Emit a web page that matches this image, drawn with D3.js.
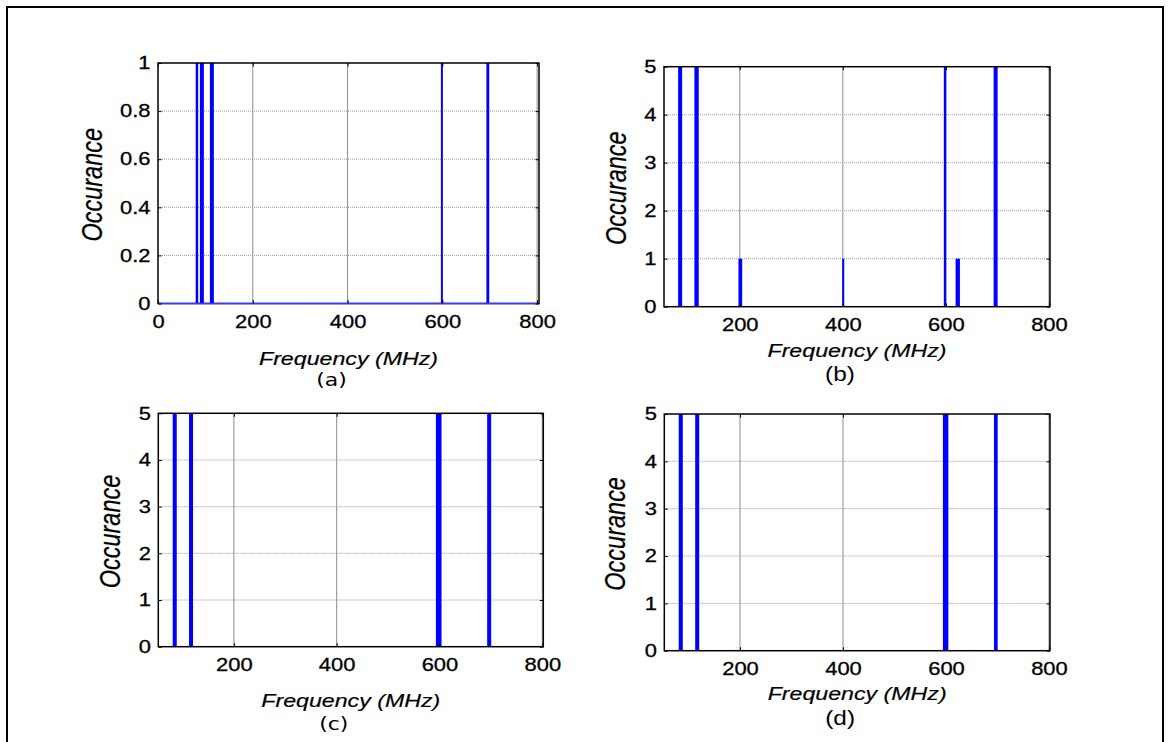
<!DOCTYPE html>
<html><head><meta charset="utf-8">
<script src="https://cdn.jsdelivr.net/npm/d3@7"></script>
<style>body{margin:0;background:#fff} svg{display:block}</style>
</head><body>
<svg id="chart" width="1168" height="742"></svg>
<script>
// ---------------- data ----------------
const panelNames = ["(a)", "(b)", "(c)", "(d)"];
const xLabel = "Frequency (MHz)";
const yLabel = "Occurance";
const xTicksA = [0, 200, 400, 600, 800];
const xTicksBCD = [200, 400, 600, 800];
const yTicksA = [0, 0.2, 0.4, 0.6, 0.8, 1];
const yTicksBCD = [0, 1, 2, 3, 4, 5];
const xDomainA = [0, 804];
const xDomainBCD = [53, 802];
const yDomainA = [0, 1];
const yDomainBCD = [0, 5];
// histogram bins: [start MHz, end MHz, occurrence]
const barsA = [[79.5, 84.8, 1], [88.4, 96.8, 1], [109.5, 117.9, 1], [597, 601, 1], [693, 699, 1]];
const barsB = [[80.4, 88.2, 5], [112, 120.4, 5], [197.5, 204.7, 1], [398.8, 402.7, 1], [596, 600.6, 5], [618.8, 627.2, 1], [692.6, 700.4, 5]];
const barsC = [[81, 88.9, 5], [112.8, 120.6, 5], [593, 604, 5], [692.8, 700.6, 5]];
const barsD = [[81, 88.9, 5], [113, 120.8, 5], [594, 604.6, 5], [693.2, 700.4, 5]];

// ---------------- layout ----------------
const SX = 1.22; // horizontal text stretch of the original figure
const svg = d3.select("#chart");

svg.append("rect").attr("x", 7).attr("y", 7).attr("width", 1156).attr("height", 760)
  .attr("fill", "none").attr("stroke", "#000").attr("stroke-width", 2);

const panels = [
  {name: panelNames[0], bars: barsA, xd: xDomainA, yd: yDomainA, xt: xTicksA, yt: yTicksA,
   L: 158, R: 539, T: 63, B: 303.5, ylabOff: -56.3, xlabOff: 61.5, nameOff: 82.5, nameFont: "DejaVu Sans", nameSize: 18, baseline: true},
  {name: panelNames[1], bars: barsB, xd: xDomainBCD, yd: yDomainBCD, xt: xTicksBCD, yt: yTicksBCD,
   L: 664, R: 1050, T: 66.7, B: 306.7, ylabOff: -38.3, xlabOff: 50.5, nameOff: 74.3, nameFont: "Liberation Sans", nameSize: 20, baseline: false},
  {name: panelNames[2], bars: barsC, xd: xDomainBCD, yd: yDomainBCD, xt: xTicksBCD, yt: yTicksBCD,
   L: 158.3, R: 543.3, T: 413.3, B: 646.7, ylabOff: -38.3, xlabOff: 60.5, nameOff: 83.3, nameFont: "DejaVu Sans", nameSize: 18, baseline: false},
  {name: panelNames[3], bars: barsD, xd: xDomainBCD, yd: yDomainBCD, xt: xTicksBCD, yt: yTicksBCD,
   L: 664.3, R: 1050, T: 414, B: 650.7, ylabOff: -39, xlabOff: 49.5, nameOff: 74.3, nameFont: "Liberation Sans", nameSize: 20, baseline: false}
];

const fmt = v => String(+v.toFixed(2));

panels.forEach(p => {
  const x = d3.scaleLinear().domain(p.xd).range([p.L, p.R]);
  const y = d3.scaleLinear().domain(p.yd).range([p.B, p.T]);
  const g = svg.append("g");

  // grid
  g.append("g").selectAll("line").data(p.xt.filter(v => x(v) > p.L + 1 && x(v) < p.R - 1)).join("line")
    .attr("x1", d => x(d)).attr("x2", d => x(d)).attr("y1", p.T).attr("y2", p.B)
    .attr("stroke", "#8c8c8c").attr("stroke-width", 1);
  g.append("g").selectAll("line").data(p.yt.filter(v => y(v) > p.T + 1 && y(v) < p.B - 1)).join("line")
    .attr("x1", p.L).attr("x2", p.R).attr("y1", d => y(d)).attr("y2", d => y(d))
    .attr("stroke", "#9a9a9a").attr("stroke-width", 1).attr("stroke-dasharray", "1,1");

  // bars
  g.append("g").selectAll("rect").data(p.bars).join("rect")
    .attr("x", d => x(d[0])).attr("width", d => Math.max(1, x(d[1]) - x(d[0])))
    .attr("y", d => y(d[2])).attr("height", d => y(0) - y(d[2]))
    .attr("fill", "#0000ff");

  // box
  g.append("rect").attr("x", p.L).attr("y", p.T).attr("width", p.R - p.L).attr("height", p.B - p.T)
    .attr("fill", "none").attr("stroke", "#000").attr("stroke-width", 1.5);

  if (p.baseline) {
    g.append("line").attr("x1", p.L + 1).attr("x2", p.R - 1).attr("y1", y(0)).attr("y2", y(0))
      .attr("stroke", "#3a3aff").attr("stroke-width", 1.5);
  }

  // axes (ticks inward, labels)
  const ax = g.append("g").attr("transform", `translate(0,${p.B})`)
    .call(d3.axisBottom(x).tickValues(p.xt).tickSizeInner(-3.5).tickSizeOuter(0).tickPadding(11.7).tickFormat(fmt));
  const axTop = g.append("g").attr("transform", `translate(0,${p.T})`)
    .call(d3.axisTop(x).tickValues(p.xt).tickSizeInner(-3.5).tickSizeOuter(0).tickFormat(""));
  const ay = g.append("g").attr("transform", `translate(${p.L},0)`)
    .call(d3.axisLeft(y).tickValues(p.yt).tickSizeInner(-3.5).tickSizeOuter(0).tickPadding(6.1).tickFormat(fmt));
  const ayR = g.append("g").attr("transform", `translate(${p.R},0)`)
    .call(d3.axisRight(y).tickValues(p.yt).tickSizeInner(-3.5).tickSizeOuter(0).tickFormat(""));
  [ax, axTop, ay, ayR].forEach(a => {
    a.select(".domain").remove();
    a.selectAll("line").attr("stroke", "#000").attr("stroke-width", 1);
    a.selectAll("text").attr("font-family", "Liberation Sans, Arial, sans-serif")
      .attr("font-size", 18).attr("fill", "#000").attr("stroke", "#000").attr("stroke-width", 0.3)
      .attr("transform", `scale(${SX},1)`);
  });

  // axis titles
  const cx = (p.L + p.R) / 2;
  svg.append("text").attr("transform", `translate(${cx},${p.B + p.xlabOff}) scale(${SX},1)`)
    .attr("text-anchor", "middle").attr("font-family", "Liberation Sans, Arial, sans-serif")
    .attr("font-style", "italic").attr("font-size", 19).attr("stroke", "#000").attr("stroke-width", 0.2).text(xLabel);
  svg.append("text").attr("transform", `translate(${p.L + p.ylabOff},${(p.T + p.B) / 2 + 1.5}) scale(${SX},1) rotate(-90)`)
    .attr("text-anchor", "middle").attr("font-family", "Liberation Sans, Arial, sans-serif")
    .attr("font-style", "italic").attr("font-size", 23.5).attr("stroke", "#000").attr("stroke-width", 0.2).text(yLabel);
  svg.append("text").attr("transform", `translate(${cx - 17},${p.B + p.nameOff}) scale(${SX},1)`)
    .attr("text-anchor", "middle").attr("font-family", p.nameFont)
    .attr("font-size", p.nameSize).text(p.name);
});
</script>
</body></html>
